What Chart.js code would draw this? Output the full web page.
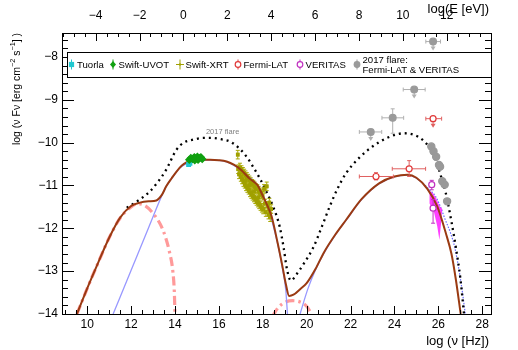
<!DOCTYPE html>
<html><head><meta charset="utf-8">
<script src="https://cdn.jsdelivr.net/npm/chart.js@4.4.0/dist/chart.umd.min.js"></script>
<style>html,body{margin:0;padding:0;background:#fff}canvas{display:block}</style>
</head><body>
<canvas id="c" width="518" height="350"></canvas>
<script>
// ---------- axis ranges & tick labels ----------
const X_MIN = 8.85, X_MAX = 28.4, Y_MIN = -14, Y_MAX = -7.44;
const E_OFFSET = 14.383; // log(E[eV]) = log(nu[Hz]) - 14.383
const xTickLabels = [10, 12, 14, 16, 18, 20, 22, 24, 26, 28];
const eTickLabels = [-4, -2, 0, 2, 4, 6, 8, 10, 12];
const yTickLabels = [-14, -13, -12, -11, -10, -9, -8];

// ---------- model curves [log nu, log nuFnu] ----------
const modelTotal = [[9.53,-14.0],[10.0,-13.4],[10.5,-12.8],[11.0,-12.22],[11.5,-11.75],[12.0,-11.48],[12.4,-11.40],[12.8,-11.37],[13.15,-11.35],[13.4,-11.22],[13.6,-11.02],[13.85,-10.83],[14.06,-10.68],[14.3,-10.54],[14.52,-10.46],[14.8,-10.42],[15.2,-10.40],[15.6,-10.40],[16.0,-10.41],[16.35,-10.44],[16.7,-10.52],[17.0,-10.63],[17.4,-10.84],[17.77,-11.0],[18.0,-11.24],[18.2,-11.46],[18.4,-11.72],[18.68,-12.35],[18.9,-12.9],[19.05,-13.3],[19.2,-13.58],[19.4,-13.55],[19.7,-13.42],[20.0,-13.28],[20.4,-12.95],[20.8,-12.55],[21.3,-12.15],[21.8,-11.8],[22.5,-11.32],[23.3,-10.95],[24.0,-10.79],[24.6,-10.75],[25.0,-10.82],[25.5,-11.08],[25.95,-11.49],[26.34,-12.11],[26.6,-12.6],[26.8,-13.2],[27.02,-14.0]];
const modelFlare2017 = [[11.8,-11.52],[12.3,-11.36],[12.85,-11.14],[13.2,-10.93],[13.6,-10.63],[14.06,-10.17],[14.4,-10.0],[14.82,-9.93],[15.3,-9.89],[15.73,-9.89],[16.1,-9.92],[16.49,-9.97],[16.9,-10.12],[17.25,-10.32],[17.6,-10.6],[17.86,-10.83],[18.2,-11.18],[18.47,-11.49],[18.77,-11.96],[18.95,-12.45],[19.1,-12.95],[19.28,-13.22],[19.5,-13.1],[19.9,-12.8],[20.3,-12.45],[20.7,-11.95],[21.05,-11.49],[21.4,-11.08],[21.8,-10.71],[22.4,-10.35],[23.0,-10.09],[23.7,-9.88],[24.45,-9.78],[24.9,-9.82],[25.27,-9.93],[25.6,-10.12],[25.88,-10.40],[26.1,-10.75],[26.34,-11.18],[26.6,-11.85],[26.8,-12.45],[27.0,-13.15],[27.17,-14.0]];
const extendedSync = [[9.53,-14.0],[10.0,-13.4],[10.5,-12.8],[11.0,-12.22],[11.5,-11.76],[12.0,-11.5],[12.3,-11.43],[12.6,-11.46],[13.0,-11.65],[13.45,-12.04],[13.76,-12.58],[13.9,-13.0],[13.97,-13.5],[14.0,-14.05]];
const extendedSSC = [[18.45,-14.05],[18.7,-13.85],[19.0,-13.73],[19.36,-13.69],[19.7,-13.72],[20.0,-13.82],[20.27,-14.05]];
const coreSync = [[11.18,-14.0],[12.0,-12.98],[12.8,-11.98],[13.6,-11.02],[13.9,-10.8],[14.2,-10.6],[14.6,-10.47],[15.2,-10.41],[15.8,-10.41],[16.35,-10.45],[17.0,-10.64],[17.77,-11.01],[18.2,-11.47],[18.68,-12.37],[18.9,-12.95],[19.05,-13.45],[19.13,-14.05]];
const coreSSC = [[19.67,-14.05],[20.05,-13.42],[20.4,-12.97],[20.8,-12.57],[21.3,-12.16],[21.8,-11.81],[22.5,-11.33],[23.3,-10.96],[24.0,-10.8],[24.6,-10.76],[25.0,-10.83],[25.3,-10.95]];
const coreSSCintrinsic = [[25.3,-10.95],[25.6,-11.1],[25.88,-11.26],[26.1,-11.5],[26.3,-11.78],[26.55,-12.1],[26.75,-12.45],[26.95,-13.0],[27.1,-13.5],[27.24,-14.05]];
const veritasBowtie = [[25.6,-11.12],[25.75,-11.18],[25.9,-11.3],[26.05,-11.48],[26.18,-11.55],[26.12,-11.9],[26.05,-12.27],[25.95,-11.95],[25.8,-11.62],[25.6,-11.42]];

// ---------- measurements ----------
const tuorla = [[14.62,-10.51],[14.68,-10.48]];
const swiftUVOT = [[14.65,-10.40],[14.72,-10.36],[14.8,-10.38],[14.88,-10.34],[14.95,-10.37],[15.02,-10.33],[15.1,-10.36],[15.18,-10.34],[15.24,-10.38],[14.9,-10.41],[15.05,-10.40]];
const swiftXRT = [[16.88,-10.62],[16.92,-10.74],[16.96,-10.58],[17.00,-10.80],[17.03,-10.64],[17.06,-10.86],[17.09,-10.68],[17.12,-10.92],[17.15,-10.72],[17.18,-10.96],[17.21,-10.76],[17.24,-11.02],[17.27,-10.80],[17.30,-11.06],[17.33,-10.84],[17.36,-11.10],[17.39,-10.88],[17.42,-11.16],[17.45,-10.92],[17.48,-11.20],[17.51,-10.96],[17.54,-11.24],[17.57,-10.98],[17.60,-11.28],[17.63,-11.02],[17.66,-11.32],[17.69,-11.06],[17.72,-11.36],[17.75,-11.08],[17.78,-11.40],[17.81,-11.12],[17.84,-11.44],[17.87,-11.16],[17.90,-11.48],[17.93,-11.20],[17.96,-11.52],[17.99,-11.24],[18.02,-11.56],[18.06,-11.08],[18.10,-11.42],[18.14,-11.62],[18.18,-11.02],[18.22,-11.48],[18.26,-11.68],[18.30,-11.40],[18.34,-11.74],[18.38,-11.55],[17.2,-10.88],[17.4,-11.0],[17.6,-11.14],[17.8,-11.28],[16.86,-10.28]];
const xrtErrX = 0.05, xrtErrY = 0.1;
// [x, y, xlo, xhi, ylo, yhi, upperLimit]
const fermiLAT = [[23.16,-10.79,22.4,23.95,-10.87,-10.70,0],[24.67,-10.61,23.9,25.42,-10.79,-10.42,0],[25.76,-9.44,25.43,26.15,-9.44,-9.44,1]];
const veritas = [[25.70,-10.98,25.70,25.70,-11.10,-10.88,0],[25.76,-11.53,25.76,25.76,-11.88,-11.33,0]];
const flare2017LAT = [[22.92,-9.75,22.4,23.42,-9.75,-9.75,1],[23.92,-9.42,23.43,24.42,-9.78,-9.21,0],[24.9,-8.76,24.4,25.4,-8.76,-8.76,1],[25.76,-7.64,25.43,26.1,-7.64,-7.64,1]];
const flare2017VERITAS = [[25.68,-10.09],[25.78,-10.2],[25.9,-10.33],[26.03,-10.52],[26.08,-10.56],[26.18,-10.9],[26.29,-10.98],[26.4,-11.37]];

// ---------- helpers ----------
const FONT = '"Liberation Sans", Arial, Helvetica, sans-serif';
const toXY = arr => arr.map(p => ({x: p[0], y: p[1]}));
const toErr = arr => arr.map(p => ({x: p[0], y: p[1], xlo: p[2], xhi: p[3], ylo: p[4], yhi: p[5], ul: !!p[6]}));
const fmt = v => (v < 0 ? '\u2212' + (-v) : String(v));

function curve(data, color, width, dash, order) {
  return {type: 'line', data: toXY(data), borderColor: color, borderWidth: width, borderDash: dash || [],
    pointRadius: 0, fill: false, cubicInterpolationMode: 'monotone', order: order, showLine: true};
}
function points(data, style, radius, color, bg, order, err, errColor, caps) {
  return {type: 'scatter', data: data, pointStyle: style, pointRadius: radius, borderColor: color,
    backgroundColor: bg, borderWidth: 1.2, order: order, errorBars: err, errorColor: errColor || color, caps: caps};
}

const datasets = [
  points(toErr(flare2017LAT), 'circle', 3.4, '#9a9a9a', '#9a9a9a', 1, true, '#b0b0b0', true),
  points(toXY(flare2017VERITAS), 'circle', 3.6, '#999999', '#999999', 1, false),
  points(toErr(veritas), 'circle', 3, '#c030c0', '#ffffff', 2, true, '#c030c0', true),
  points(toErr(fermiLAT), 'circle', 3, '#e03838', '#ffffff', 3, true, '#e06060', true),
  points(toXY(tuorla), 'rect', 2.6, '#20c8d0', '#20c8d0', 5, false),
  points(toXY(swiftUVOT), 'rectRot', 3.4, '#10a010', '#10a010', 4, false),
  curve(modelTotal, '#9a3a12', 2, [], 6),
  points(swiftXRT.map(p => ({x: p[0], y: p[1], xlo: p[0]-xrtErrX, xhi: p[0]+xrtErrX, ylo: p[1]-xrtErrY, yhi: p[1]+xrtErrY})), 'rect', 1.8, '#a0a000', '#a0a000', 7, true, '#a8a800', true),
  {type: 'line', data: toXY(veritasBowtie), borderWidth: 0, backgroundColor: 'rgba(255,30,255,0.85)', fill: 'shape', pointRadius: 0, order: 8, tension: 0},
  curve(modelFlare2017, '#000000', 2.3, [2, 4], 9),
  curve(coreSSCintrinsic, '#6a6aff', 1.2, [1.5, 1.5], 10),
  curve(coreSync, '#9898ff', 1.3, [], 11),
  curve(coreSSC, '#9898ff', 1.3, [], 11),
  curve(extendedSync, '#ff9a9a', 3.2, [9, 4, 2.5, 4], 12),
  curve(extendedSSC, '#ff9a9a', 3.2, [9, 4, 2.5, 4], 12)
];

// ---------- plugins ----------
const errorBarPlugin = {
  id: 'errbars',
  beforeDatasetDraw(chart, args) {
    const ds = chart.data.datasets[args.index];
    if (!ds.errorBars) return;
    const xs = chart.scales.x, ys = chart.scales.y, ctx = chart.ctx, a = chart.chartArea;
    ctx.save();
    ctx.setLineDash([]);
    ctx.beginPath(); ctx.rect(a.left, a.top, a.right - a.left, a.bottom - a.top); ctx.clip();
    ctx.strokeStyle = ds.errorColor; ctx.fillStyle = ds.errorColor; ctx.lineWidth = 1;
    const line = (x1, y1, x2, y2) => { ctx.beginPath(); ctx.moveTo(x1, y1); ctx.lineTo(x2, y2); ctx.stroke(); };
    ds.data.forEach(p => {
      const px = xs.getPixelForValue(p.x), py = ys.getPixelForValue(p.y);
      if (p.xlo !== undefined && p.xlo !== p.xhi) {
        const l = xs.getPixelForValue(p.xlo), r = xs.getPixelForValue(p.xhi);
        line(l, py, r, py);
        if (ds.caps) { line(l, py - 2, l, py + 2); line(r, py - 2, r, py + 2); }
      }
      if (p.ylo !== undefined && p.ylo !== p.yhi) {
        const t = ys.getPixelForValue(p.yhi), b = ys.getPixelForValue(p.ylo);
        line(px, t, px, b);
        if (ds.caps) { line(px - 2, t, px + 2, t); line(px - 2, b, px + 2, b); }
      }
      if (p.ul) {
        line(px, py, px, py + 6);
        ctx.beginPath(); ctx.moveTo(px - 2.5, py + 5); ctx.lineTo(px + 2.5, py + 5); ctx.lineTo(px, py + 9); ctx.closePath(); ctx.fill();
      }
    });
    ctx.restore();
  }
};

function drawMarker(ctx, kind, x, y, color) {
  ctx.save();
  ctx.setLineDash([]);
  ctx.strokeStyle = color; ctx.fillStyle = color; ctx.lineWidth = 1;
  ctx.beginPath(); ctx.moveTo(x, y - 5); ctx.lineTo(x, y + 5); ctx.stroke();
  if (kind === 'cross') { ctx.beginPath(); ctx.moveTo(x - 4, y); ctx.lineTo(x + 4, y); ctx.stroke(); }
  ctx.beginPath();
  if (kind === 'square') { ctx.fillRect(x - 2.6, y - 2.6, 5.2, 5.2); }
  else if (kind === 'diamond') { ctx.moveTo(x, y - 3.5); ctx.lineTo(x + 3, y); ctx.lineTo(x, y + 3.5); ctx.lineTo(x - 3, y); ctx.closePath(); ctx.fill(); }
  else if (kind === 'cross') { ctx.fillRect(x - 1, y - 1, 2, 2); }
  else if (kind === 'open') { ctx.fillStyle = '#fff'; ctx.lineWidth = 1.2; ctx.arc(x, y, 2.8, 0, Math.PI * 2); ctx.fill(); ctx.stroke(); }
  else if (kind === 'filled') { ctx.arc(x, y, 3.4, 0, Math.PI * 2); ctx.fill(); }
  ctx.restore();
}

const decorPlugin = {
  id: 'decor',
  afterDatasetsDraw(chart) {
    const ctx = chart.ctx, a = chart.chartArea;
    const xs = chart.scales.x, x2 = chart.scales.x2, ys = chart.scales.y;
    ctx.save();
    ctx.setLineDash([]);
    ctx.fillStyle = '#000';
    const L = Math.round(a.left), R = Math.round(a.right), T = Math.round(a.top), B = Math.round(a.bottom);
    // inner ticks (drawn as 1px rectangles)
    for (let v = 9; v <= 28.001; v += 0.5) {
      const px = Math.round(xs.getPixelForValue(v));
      const major = Math.abs(v / 2 - Math.round(v / 2)) < 1e-6;
      const len = major ? 8 : 4;
      ctx.fillRect(px, B - len, 1, len);
    }
    for (let v = -5.5; v <= 14.001; v += 0.5) {
      const px = Math.round(x2.getPixelForValue(v));
      if (px <= L || px >= R) continue;
      const major = Math.abs(v / 2 - Math.round(v / 2)) < 1e-6;
      const len = major ? 8 : 4;
      ctx.fillRect(px, T, 1, len);
    }
    for (let v = -14; v <= -7.45; v += 0.2) {
      const py = Math.round(ys.getPixelForValue(v));
      const major = Math.abs(v - Math.round(v)) < 1e-6;
      const len = major ? 12 : 6;
      ctx.fillRect(L, py, len, 1);
      ctx.fillRect(R - len, py, len, 1);
    }
    // frame
    ctx.fillRect(L, T, R - L, 1);
    ctx.fillRect(L, B, R - L + 1, 1);
    ctx.fillRect(L, T, 1, B - T);
    ctx.fillRect(R, T, 1, B - T);

    // in-plot label
    ctx.fillStyle = '#808080'; ctx.font = '7.5px ' + FONT; ctx.textAlign = 'center'; ctx.textBaseline = 'middle';
    ctx.fillText('2017 flare', xs.getPixelForValue(16.17), ys.getPixelForValue(-9.75));

    // legend box
    const LB = {x1: 67, y1: 52, x2: R, y2: 77};
    ctx.fillStyle = '#fff'; ctx.fillRect(LB.x1, LB.y1, LB.x2 - LB.x1, LB.y2 - LB.y1);
    ctx.fillStyle = '#000';
    ctx.fillRect(LB.x1, LB.y1, LB.x2 - LB.x1, 1);
    ctx.fillRect(LB.x1, LB.y2, LB.x2 - LB.x1, 1);
    ctx.fillRect(LB.x1, LB.y1, 1, LB.y2 - LB.y1);
    const entries = [
      ['square', '#20c8d0', 71.5, ['Tuorla']],
      ['diamond', '#10a010', 113, ['Swift-UVOT']],
      ['cross', '#a0a000', 180, ['Swift-XRT']],
      ['open', '#e03838', 238, ['Fermi-LAT']],
      ['open', '#c030c0', 300, ['VERITAS']],
      ['filled', '#9a9a9a', 357, ['2017 flare:', 'Fermi-LAT & VERITAS']]
    ];
    ctx.font = '9.6px ' + FONT; ctx.textAlign = 'left'; ctx.textBaseline = 'middle';
    entries.forEach(e => {
      drawMarker(ctx, e[0], e[2], 64.5, e[1]);
      ctx.fillStyle = '#000';
      if (e[3].length === 1) ctx.fillText(e[3][0], e[2] + 5.5, 65);
      else { ctx.fillText(e[3][0], e[2] + 5.5, 60); ctx.fillText(e[3][1], e[2] + 5.5, 70); }
    });

    // axis titles
    ctx.fillStyle = '#000'; ctx.font = '13px ' + FONT; ctx.textAlign = 'right'; ctx.textBaseline = 'middle';
    ctx.fillText('log (\u03bd [Hz])', 489, 341);
    ctx.fillText('log(E [eV])', 489, 9);
    // y title rotated with superscripts
    const segs = [['log (\u03bd F\u03bd [erg cm', 0], ['\u22122', 1], [' s', 0], ['\u22121', 1], ['] )', 0]];
    const norm = '10.5px ' + FONT, sup = '7.2px ' + FONT;
    let total = 0;
    segs.forEach(s => { ctx.font = s[1] ? sup : norm; total += ctx.measureText(s[0]).width; });
    ctx.translate(17, T); ctx.rotate(-Math.PI / 2);
    ctx.textAlign = 'left';
    let cx = -total;
    segs.forEach(s => {
      ctx.font = s[1] ? sup : norm;
      ctx.fillText(s[0], cx, s[1] ? -4 : 0);
      cx += ctx.measureText(s[0]).width;
    });
    ctx.restore();
  }
};

const tickFont = {family: FONT, size: 12};
const hiddenGrid = {display: false, drawTicks: false, tickLength: 0};
new Chart(document.getElementById('c'), {
  type: 'scatter',
  data: {datasets: datasets},
  options: {
    responsive: false, animation: false, devicePixelRatio: 1, events: [],
    layout: {padding: {left: 0, right: 27, top: 0, bottom: 0}},
    plugins: {legend: {display: false}, tooltip: {enabled: false}},
    scales: {
      x: {type: 'linear', position: 'bottom', min: X_MIN, max: X_MAX,
        afterBuildTicks: s => { s.ticks = xTickLabels.map(v => ({value: v})); },
        afterFit: s => { s.height = 36; },
        grid: hiddenGrid, border: {display: false},
        ticks: {font: tickFont, color: '#000', padding: 3, maxRotation: 0, autoSkip: false, callback: fmt}},
      x2: {type: 'linear', position: 'top', min: X_MIN - E_OFFSET, max: X_MAX - E_OFFSET,
        afterBuildTicks: s => { s.ticks = eTickLabels.map(v => ({value: v})); },
        afterFit: s => { s.height = 33; },
        grid: hiddenGrid, border: {display: false},
        ticks: {font: tickFont, color: '#000', padding: 10, maxRotation: 0, autoSkip: false, callback: fmt}},
      y: {type: 'linear', position: 'left', min: Y_MIN, max: Y_MAX,
        afterBuildTicks: s => { s.ticks = yTickLabels.map(v => ({value: v})); },
        afterFit: s => { s.width = 62; },
        grid: hiddenGrid, border: {display: false},
        ticks: {font: tickFont, color: '#000', padding: 4, autoSkip: false, callback: fmt}}
    }
  },
  plugins: [errorBarPlugin, decorPlugin]
});
</script>
</body></html>
